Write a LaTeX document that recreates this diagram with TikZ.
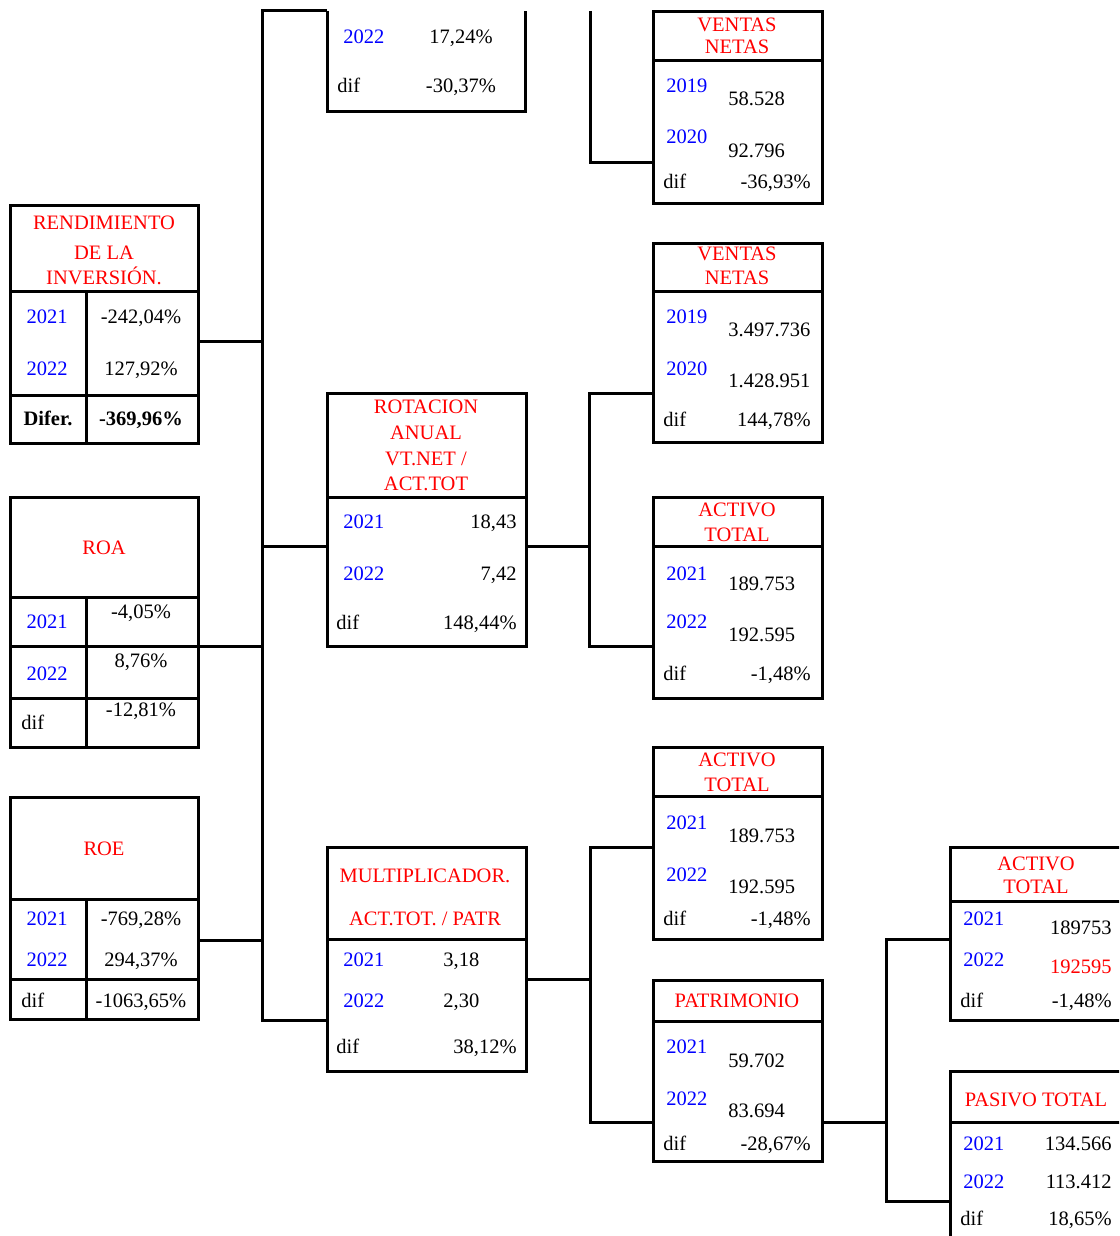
\documentclass[tikz,border=0pt]{standalone}
\usepackage{fontspec}
\setmainfont{Liberation Serif}
\usetikzlibrary{fit}

\begin{document}
\begin{tikzpicture}[x=0.5pt, y=-0.5pt,
    caja/.style={draw, line width=1.5pt, inner sep=0pt},
    linea/.style={line width=1.5pt},
    conn/.style={line width=1.5pt},
    txt/.style={inner sep=0pt, font=\fontsize{10.25}{12}\selectfont},
    tit/.style={txt, red, anchor=base},
    anio/.style={txt, blue, anchor=base west},
    anioc/.style={txt, blue, anchor=base},
    izq/.style={txt, anchor=base west},
    der/.style={txt, anchor=base east},
    cen/.style={txt, anchor=base}]

    \useasboundingbox (0,0) rectangle (1119,1236);
    \clip (0,0) rectangle (1119,1236);

    % puntos de los conectores
    \coordinate (a1) at (262,11);
    \coordinate (a2) at (262,341);
    \coordinate (a3) at (262,546);
    \coordinate (a4) at (262,646);
    \coordinate (a5) at (262,940);
    \coordinate (a6) at (262,1020);
    \coordinate (b0) at (590,11);
    \coordinate (b1) at (590,162);
    \coordinate (c1) at (589,393);
    \coordinate (c2) at (589,546);
    \coordinate (c3) at (589,646);
    \coordinate (d1) at (590,847);
    \coordinate (d2) at (590,979);
    \coordinate (d3) at (590,1122);
    \coordinate (e1) at (886,939);
    \coordinate (e2) at (886,1122);
    \coordinate (e3) at (886,1201);

    % caja cortada arriba
    \coordinate (topnw) at (327,11);
    \coordinate (topne) at (525,11);
    \draw[linea] (topnw) -- (327,112) -- (525,112) -- (topne);
    \node[anio] (top-y2) at (343,44) {2022};
    \node[cen] (top-v2) at (461,44) {17,24\%};
    \node[izq] (top-d) at (337,93) {dif};
    \node[cen] (top-vd) at (461,93) {-30,37\%};

    % rendimiento de la inversion
    \node[caja, fit={(10,205) (198,443)}] (rend) {};
    \draw[linea] (10,291) -- (198,291) (10,395) -- (198,395) (86,291) -- (86,443);
    \node[tit] (rend-t1) at (104,229) {RENDIMIENTO};
    \node[tit] (rend-t2) at (104,259) {DE LA};
    \node[tit] (rend-t3) at (104,284) {INVERSIÓN.};
    \node[anioc] (rend-y1) at (47,323) {2021};
    \node[cen] (rend-v1) at (141,323) {-242,04\%};
    \node[anioc] (rend-y2) at (47,375) {2022};
    \node[cen] (rend-v2) at (141,375) {127,92\%};
    \node[cen] (rend-d) at (48,425) {\bfseries Difer.};
    \node[cen] (rend-vd) at (141,425) {\bfseries -369,96\%};

    % ROA
    \node[caja, fit={(10,497) (198,747)}] (roa) {};
    \draw[linea] (10,597) -- (198,597) (10,646) -- (198,646) (10,698) -- (198,698) (86,597) -- (86,747);
    \node[tit] (roa-t) at (104,554) {ROA};
    \node[anioc] (roa-y1) at (47,628) {2021};
    \node[cen] (roa-v1) at (141,618) {-4,05\%};
    \node[anioc] (roa-y2) at (47,680) {2022};
    \node[cen] (roa-v2) at (141,667) {8,76\%};
    \node[izq] (roa-d) at (21,729) {dif};
    \node[cen] (roa-vd) at (141,716) {-12,81\%};

    % ROE
    \node[caja, fit={(10,797) (198,1019)}] (roe) {};
    \draw[linea] (10,899) -- (198,899) (10,979) -- (198,979) (86,899) -- (86,1019);
    \node[tit] (roe-t) at (104,855) {ROE};
    \node[anioc] (roe-y1) at (47,925) {2021};
    \node[cen] (roe-v1) at (141,925) {-769,28\%};
    \node[anioc] (roe-y2) at (47,966) {2022};
    \node[cen] (roe-v2) at (141,966) {294,37\%};
    \node[izq] (roe-d) at (21,1007) {dif};
    \node[cen] (roe-vd) at (141,1007) {-1063,65\%};

    % rotacion anual
    \node[caja, fit={(327,393) (526,646)}] (rota) {};
    \draw[linea] (327,497) -- (526,497);
    \node[tit] (rota-t1) at (426,413) {ROTACION};
    \node[tit] (rota-t2) at (426,439) {ANUAL};
    \node[tit] (rota-t3) at (426,465) {VT.NET /};
    \node[tit] (rota-t4) at (426,490) {ACT.TOT};
    \node[anio] (rota-y1) at (343,528) {2021};
    \node[der] (rota-v1) at (517,528) {18,43};
    \node[anio] (rota-y2) at (343,580) {2022};
    \node[der] (rota-v2) at (517,580) {7,42};
    \node[izq] (rota-d) at (336,629) {dif};
    \node[der] (rota-vd) at (517,629) {148,44\%};

    % multiplicador
    \node[caja, fit={(327,847) (526,1071)}] (mult) {};
    \draw[linea] (327,939) -- (526,939);
    \node[tit] (mult-t1) at (425,882) {MULTIPLICADOR.};
    \node[tit] (mult-t2) at (425,925) {ACT.TOT. / PATR};
    \node[anio] (mult-y1) at (343,966) {2021};
    \node[izq] (mult-v1) at (443,966) {3,18};
    \node[anio] (mult-y2) at (343,1007) {2022};
    \node[izq] (mult-v2) at (443,1007) {2,30};
    \node[izq] (mult-d) at (336,1053) {dif};
    \node[der] (mult-vd) at (517,1053) {38,12\%};

    % ventas netas 1
    \node[caja, fit={(653,12) (822,203)}] (vn1) {};
    \draw[linea] (653,61) -- (822,61);
    \node[tit] (vn1-t1) at (737,32) {VENTAS};
    \node[tit] (vn1-t2) at (737,54) {NETAS};
    \node[anio] (vn1-y1) at (666,93) {2019};
    \node[izq] (vn1-v1) at (728,105) {58.528};
    \node[anio] (vn1-y2) at (666,143) {2020};
    \node[izq] (vn1-v2) at (728,157) {92.796};
    \node[izq] (vn1-d) at (663,188) {dif};
    \node[der] (vn1-vd) at (811,188) {-36,93\%};

    % ventas netas 2
    \node[caja, fit={(653,243) (822,442)}] (vn2) {};
    \draw[linea] (653,291) -- (822,291);
    \node[tit] (vn2-t1) at (737,260) {VENTAS};
    \node[tit] (vn2-t2) at (737,284) {NETAS};
    \node[anio] (vn2-y1) at (666,323) {2019};
    \node[izq] (vn2-v1) at (728,336) {3.497.736};
    \node[anio] (vn2-y2) at (666,375) {2020};
    \node[izq] (vn2-v2) at (728,387) {1.428.951};
    \node[izq] (vn2-d) at (663,426) {dif};
    \node[der] (vn2-vd) at (811,426) {144,78\%};

    % activo total 1
    \node[caja, fit={(653,497) (822,698)}] (at1) {};
    \draw[linea] (653,546) -- (822,546);
    \node[tit] (at1-t1) at (737,516) {ACTIVO};
    \node[tit] (at1-t2) at (737,541) {TOTAL};
    \node[anio] (at1-y1) at (666,580) {2021};
    \node[izq] (at1-v1) at (728,590) {189.753};
    \node[anio] (at1-y2) at (666,628) {2022};
    \node[izq] (at1-v2) at (728,641) {192.595};
    \node[izq] (at1-d) at (663,680) {dif};
    \node[der] (at1-vd) at (811,680) {-1,48\%};

    % activo total 2
    \node[caja, fit={(653,747) (822,939)}] (at2) {};
    \draw[linea] (653,796) -- (822,796);
    \node[tit] (at2-t1) at (737,766) {ACTIVO};
    \node[tit] (at2-t2) at (737,791) {TOTAL};
    \node[anio] (at2-y1) at (666,829) {2021};
    \node[izq] (at2-v1) at (728,842) {189.753};
    \node[anio] (at2-y2) at (666,881) {2022};
    \node[izq] (at2-v2) at (728,893) {192.595};
    \node[izq] (at2-d) at (663,925) {dif};
    \node[der] (at2-vd) at (811,925) {-1,48\%};

    % patrimonio
    \node[caja, fit={(653,980) (822,1161)}] (pat) {};
    \draw[linea] (653,1021) -- (822,1021);
    \node[tit] (pat-t) at (737,1007) {PATRIMONIO};
    \node[anio] (pat-y1) at (666,1053) {2021};
    \node[izq] (pat-v1) at (728,1067) {59.702};
    \node[anio] (pat-y2) at (666,1105) {2022};
    \node[izq] (pat-v2) at (728,1117) {83.694};
    \node[izq] (pat-d) at (663,1150) {dif};
    \node[der] (pat-vd) at (811,1150) {-28,67\%};

    % activo total 3
    \node[caja, fit={(950,847) (1130,1020)}] (at3) {};
    \draw[linea] (950,901) -- (1130,901);
    \node[tit] (at3-t1) at (1036,870) {ACTIVO};
    \node[tit] (at3-t2) at (1036,893) {TOTAL};
    \node[anio] (at3-y1) at (963,925) {2021};
    \node[der] (at3-v1) at (1112,934) {189753};
    \node[anio] (at3-y2) at (963,966) {2022};
    \node[der, red] (at3-v2) at (1112,973) {192595};
    \node[izq] (at3-d) at (960,1007) {dif};
    \node[der] (at3-vd) at (1112,1007) {-1,48\%};

    % pasivo total
    \node[caja, fit={(950,1071) (1130,1250)}] (pas) {};
    \draw[linea] (950,1122) -- (1130,1122);
    \node[tit] (pas-t) at (1036,1106) {PASIVO TOTAL};
    \node[anio] (pas-y1) at (963,1150) {2021};
    \node[der] (pas-v1) at (1112,1150) {134.566};
    \node[anio] (pas-y2) at (963,1188) {2022};
    \node[der] (pas-v2) at (1112,1188) {113.412};
    \node[izq] (pas-d) at (960,1225) {dif};
    \node[der] (pas-vd) at (1112,1225) {18,65\%};

    % conectores
    \draw[conn] (topnw) -- (a1) -- (a6) -- (mult.west |- a6);
    \draw[conn] (rend.east |- a2) -- (a2);
    \draw[conn] (a3) -- (rota.west |- a3);
    \draw[conn] (roa.east |- a4) -- (a4);
    \draw[conn] (roe.east |- a5) -- (a5);
    \draw[conn] (b0) -- (b1) -- (vn1.west |- b1);
    \draw[conn] (rota.east |- c2) -- (c2);
    \draw[conn] (vn2.west |- c1) -- (c1) -- (c3) -- (at1.west |- c3);
    \draw[conn] (mult.east |- d2) -- (d2);
    \draw[conn] (at2.west |- d1) -- (d1) -- (d3) -- (pat.west |- d3);
    \draw[conn] (pat.east |- e2) -- (e2);
    \draw[conn] (at3.west |- e1) -- (e1) -- (e3) -- (pas.west |- e3);
\end{tikzpicture}
\end{document}
